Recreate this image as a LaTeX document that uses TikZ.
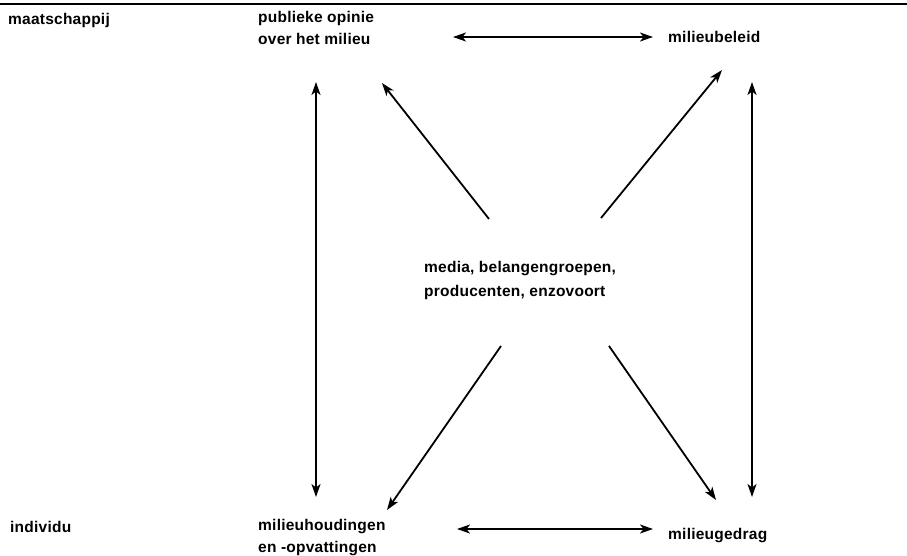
\documentclass[tikz,border=0pt]{standalone}
\usepackage{fontspec}
\setmainfont[LetterSpace=1.5]{Liberation Sans}
\usepackage{tikz}
\usetikzlibrary{arrows.meta,positioning}
\tikzstyle{label} = [inner sep=0pt, anchor=west, align=left, font=\bfseries\fontsize{15.5}{22}\selectfont]
\tikzstyle{link} = [line width=1.8pt, -{Stealth[length=13pt,width=9pt,inset=3.5pt]}]
\tikzstyle{duallink} = [line width=1.8pt, {Stealth[length=13pt,width=9pt,inset=3.5pt]}-{Stealth[length=13pt,width=9pt,inset=3.5pt]}]

\begin{document}
\begin{tikzpicture}[x=1pt,y=-1pt]
\useasboundingbox (0,0) rectangle (907,556);
% Rule
\draw[line width=2.6pt] (0,4) -- (907,4);

% Levels
\node[label] (maatschappij) at (8,20) {maatschappij};
\node[label] (individu) at (10,527) {individu};

% Factors
\node[label] (opinie) at (258,28) {publieke opinie\\over het milieu};
\node[label] (beleid) at (668,37) {milieubeleid};
\node[label, font=\bfseries\fontsize{15.5}{24}\selectfont] (media) at (424,280) {media, belangengroepen,\\producenten, enzovoort};
\node[label] (houding) at (258,538) {milieuhoudingen\\en -opvattingen};
\node[label] (gedrag) at (668,536) {milieugedrag};

% Mutual links
\draw[duallink] ([xshift=195pt]opinie.west |- beleid.west) -- ([xshift=-15pt]beleid.west);
\draw[duallink] ([shift={(199,-9)}]houding.west) -- ([shift={(-15,-7)}]gedrag.west);
\draw[duallink] ([shift={(58,-41)}]houding.west) -- ([shift={(58,54)}]opinie.west);
\draw[duallink] ([shift={(84,-39)}]gedrag.west) -- ([shift={(84,45)}]beleid.west);

% Influence of media
\draw[link] ([shift={(65,-61)}]media.west) -- ([shift={(124,55)}]opinie.west);
\draw[link] ([shift={(177,-62)}]media.west) -- ([shift={(54,33)}]beleid.west);
\draw[link] ([shift={(77,66)}]media.west) -- ([shift={(129,-28)}]houding.west);
\draw[link] ([shift={(185,66)}]media.west) -- ([shift={(48,-36)}]gedrag.west);
\end{tikzpicture}
\end{document}
